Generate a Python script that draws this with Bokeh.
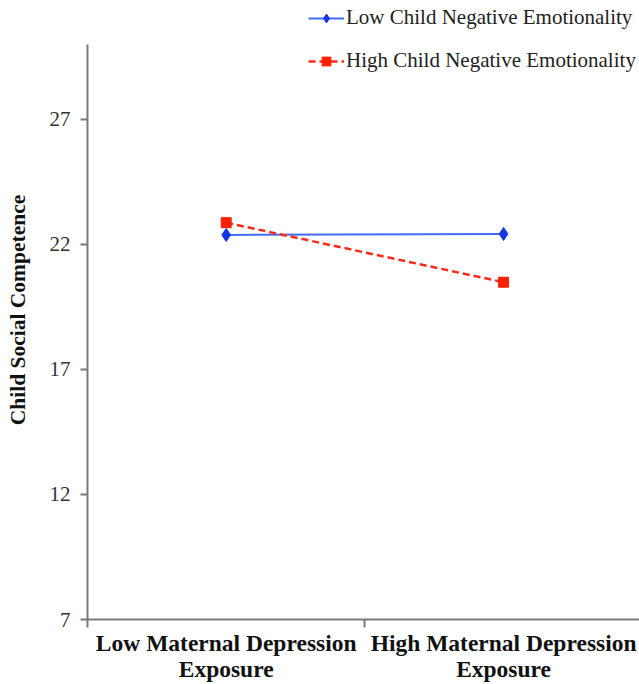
from bokeh.plotting import figure
from bokeh.models import Range1d, FixedTicker
from bokeh.embed import file_html
from bokeh.resources import INLINE

# ---- data ----
categories = [["Low Maternal Depression", "Exposure"],
              ["High Maternal Depression", "Exposure"]]
series_names = ["Low Child Negative Emotionality", "High Child Negative Emotionality"]
low_ne = [22.37, 22.41]
high_ne = [22.86, 20.48]
y_ticks = [7, 12, 17, 22, 27]
y_min, y_max = 7, 30

FONT = "Liberation Serif"
xs = [i + 0.5 for i in range(len(categories))]
bounds_x = [float(i) for i in range(len(categories) + 1)]

p = figure(width=639, height=684, output_backend="svg", toolbar_location=None,
           x_range=Range1d(0, 1.99), y_range=Range1d(y_min, 31.74),
           min_border_left=87, min_border_right=0, min_border_top=0,
           min_border_bottom=65)
p.outline_line_color = None
p.xgrid.visible = False
p.ygrid.visible = False
p.background_fill_color = "white"
p.border_fill_color = "white"

# y axis
ya = p.yaxis[0]
ya.bounds = (y_min, y_max)
ya.ticker = FixedTicker(ticks=y_ticks)
ya.axis_line_color = "#7a7a7a"
ya.axis_line_width = 2
ya.major_tick_line_color = "#7a7a7a"
ya.major_tick_line_width = 2
ya.major_tick_out = 7
ya.major_tick_in = 0
ya.minor_tick_line_color = None
ya.major_label_text_font = FONT
ya.major_label_text_font_size = "21px"
ya.major_label_text_color = "#333333"
ya.major_label_standoff = 10
ya.axis_label = "Child Social Competence"
ya.axis_label_text_font = FONT
ya.axis_label_text_font_size = "21.5px"
ya.axis_label_text_font_style = "bold"
ya.axis_label_text_color = "#111111"
ya.axis_label_standoff = 17

# x axis: category labels at centres, tick marks at boundaries
xa = p.xaxis[0]
xa.ticker = FixedTicker(ticks=xs, minor_ticks=bounds_x)
xa.major_label_overrides = {x: "\n".join(cat) for x, cat in zip(xs, categories)}
xa.axis_line_color = "#7a7a7a"
xa.axis_line_width = 2
xa.major_tick_line_color = None
xa.major_tick_out = 0
xa.major_tick_in = 0
xa.minor_tick_line_color = "#7a7a7a"
xa.minor_tick_line_width = 2
xa.minor_tick_out = 8
xa.minor_tick_in = 0
xa.major_label_standoff = 2
xa.major_label_text_font = FONT
xa.major_label_text_font_size = "23.5px"
xa.major_label_text_font_style = "bold"
xa.major_label_text_color = "#111111"
xa.major_label_text_line_height = 1.0

# series
p.line(xs, low_ne, line_color="#3f6ef5", line_width=2, legend_label=series_names[0])
p.scatter(xs, low_ne, marker="diamond", size=13, fill_color="#1236e6",
          line_color="#1236e6", legend_label=series_names[0])
p.line(xs, high_ne, line_color="#ff2a1a", line_width=2.5, line_dash="7 4",
       legend_label=series_names[1])
p.scatter(xs, high_ne, marker="square", size=10, fill_color="#ff2000",
          line_color="#ff2000", legend_label=series_names[1])

lg = p.legend[0]
lg.location = (221, 546)
lg.border_line_color = None
lg.background_fill_alpha = 0
lg.padding = 0
lg.margin = 0
lg.spacing = 18
lg.label_height = 22
lg.glyph_height = 22
lg.glyph_width = 36
lg.label_standoff = 2
lg.label_text_font = FONT
lg.label_text_font_size = "21px"
lg.label_text_color = "#222222"

open("out.html", "w").write(file_html(p, INLINE))
